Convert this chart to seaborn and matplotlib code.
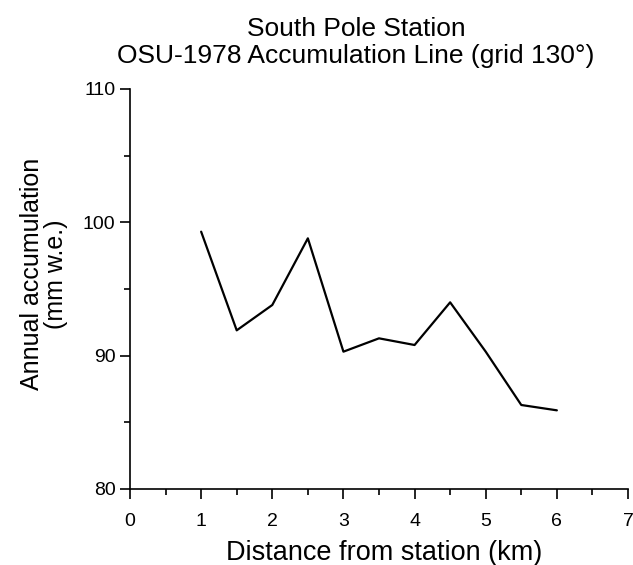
import numpy as np
import pandas as pd
import matplotlib
matplotlib.use("Agg")
import matplotlib.pyplot as plt
from matplotlib.ticker import MultipleLocator
import seaborn as sns

# values
distance_km = [1.0, 1.5, 2.0, 2.5, 3.0, 3.5, 4.0, 4.5, 5.0, 5.5, 6.0]
accumulation = [99.3, 91.9, 93.8, 98.8, 90.3, 91.3, 90.8, 94.0, 90.3, 86.3, 85.9]

df = pd.DataFrame({"dist": distance_km, "acc": accumulation})

sns.set_style("ticks")
plt.rcParams["font.family"] = ["Liberation Sans", "DejaVu Sans"]
plt.rcParams["text.color"] = "black"
plt.rcParams["axes.labelcolor"] = "black"
plt.rcParams["xtick.color"] = "black"
plt.rcParams["ytick.color"] = "black"

fig = plt.figure(figsize=(6.33, 5.65), dpi=100)
ax = fig.add_axes([130 / 633, 1 - 489 / 565, 498 / 633, 400 / 565])

sns.lineplot(data=df, x="dist", y="acc", color="black", linewidth=1.6, ax=ax)

ax.set_xlim(0, 7)
ax.set_ylim(80, 110)
ax.xaxis.set_major_locator(MultipleLocator(1))
ax.xaxis.set_minor_locator(MultipleLocator(0.5))
ax.yaxis.set_major_locator(MultipleLocator(10))
ax.yaxis.set_minor_locator(MultipleLocator(5))
ax.tick_params(which="major", length=7, width=1.2, labelsize=14)
ax.tick_params(axis="x", which="major", pad=10)
ax.tick_params(which="minor", length=4, width=1.2)
sns.despine(ax=ax)
for s in ["left", "bottom"]:
    ax.spines[s].set_linewidth(1.2)
    ax.spines[s].set_color("black")

ax.set_xlabel("Distance from station (km)", fontsize=19.5)
ax.xaxis.set_label_coords(0.51, -0.1275, transform=ax.transAxes)
ax.xaxis.label.set_va("top")
ax.set_ylabel("Annual accumulation\n(mm w.e.)", fontsize=18, linespacing=1.0)
ax.yaxis.set_label_coords(-0.125, 0.5375)
ax.set_title("South Pole Station\nOSU-1978 Accumulation Line (grid 130°)",
             fontsize=19, x=0.454, pad=19, linespacing=1.14)

fig.savefig("out.png", dpi=100)
